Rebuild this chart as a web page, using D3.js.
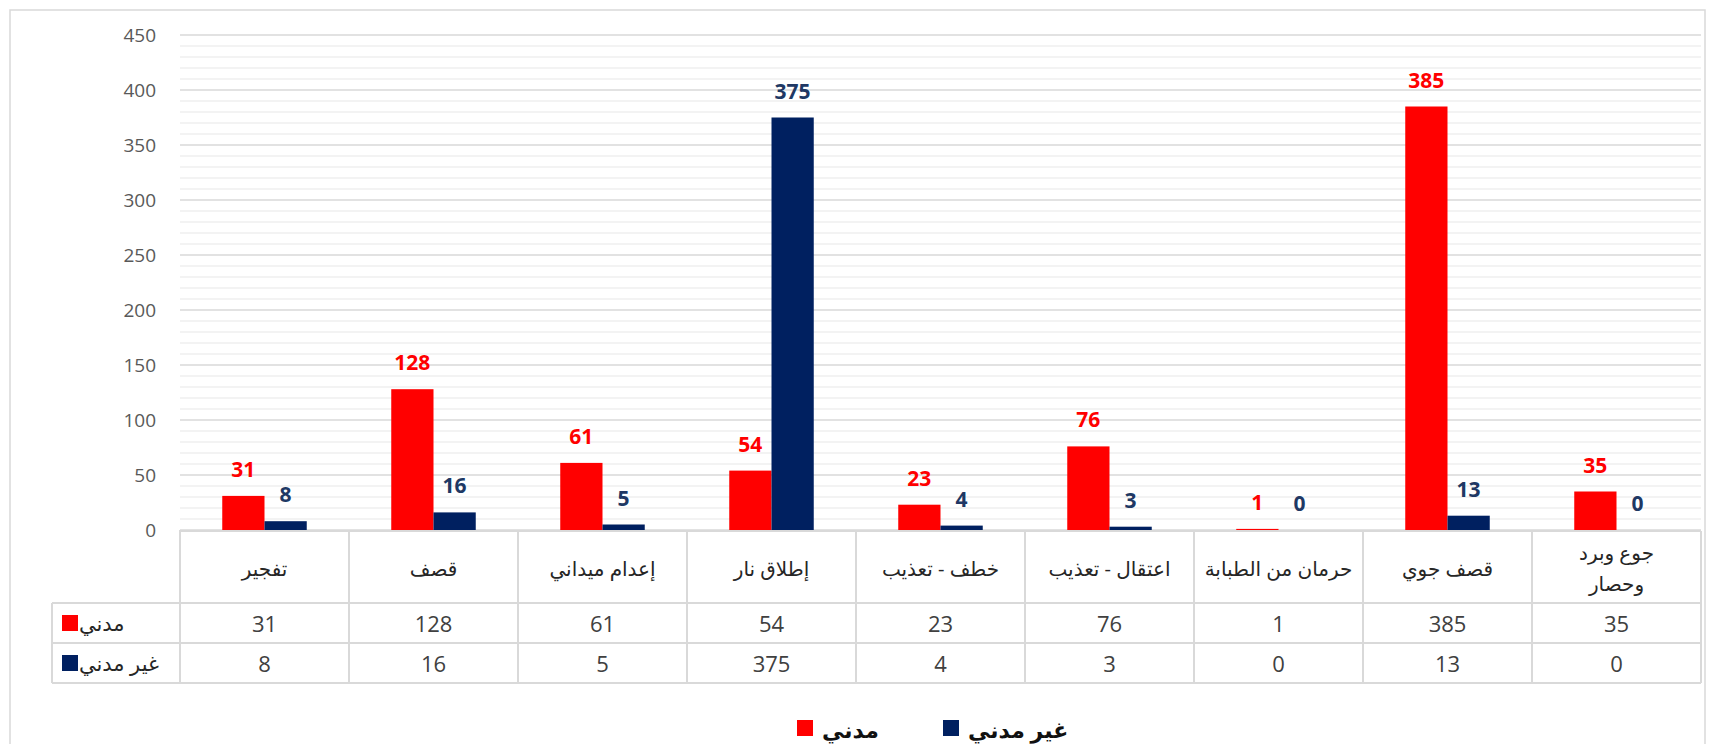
<!DOCTYPE html>
<html>
<head>
<meta charset="utf-8">
<script src="https://cdn.jsdelivr.net/npm/d3@7"></script>
<style>
  body { margin: 0; background: #fff; }
  svg { display: block; }
  text { font-family: "Open Sans", "DejaVu Sans", sans-serif; }
</style>
</head>
<body>
<div id="chart-area"></div>
<script>
// data ("\n" marks where the header label wraps)
const categories = ["تفجير", "قصف", "إعدام ميداني", "إطلاق نار", "خطف - تعذيب",
  "اعتقال - تعذيب", "حرمان من الطبابة", "قصف جوي", "جوع وبرد\nوحصار"];
const civilian = [31, 128, 61, 54, 23, 76, 1, 385, 35];
const nonCivilian = [8, 16, 5, 375, 4, 3, 0, 13, 0];
const seriesNames = ["مدني", "غير مدني"];
const seriesColors = ["#ff0000", "#002060"];
const labelColors = ["#ff0000", "#203864"];
const yTicks = [0, 50, 100, 150, 200, 250, 300, 350, 400, 450];

const W = 1710, H = 744;
let plot = { left: 180, right: 1701, top: 35, bottom: 530 };

let svg = d3.select("#chart-area").append("svg")
  .attr("width", W).attr("height", H);

// outer frame
svg.append("rect")
  .attr("x", 10).attr("y", 10)
  .attr("width", 1695).attr("height", 800)
  .attr("fill", "none").attr("stroke", "#d9d9d9").attr("stroke-width", 1.5);

let x = d3.scaleBand().domain(categories).range([plot.left, plot.right]);
let xSub = d3.scaleBand().domain([0, 1]).range([0, x.bandwidth()])
  .paddingOuter(1).paddingInner(0);
let y = d3.scaleLinear().domain([0, 450]).range([plot.bottom, plot.top]);

// minor gridlines
svg.append("g").selectAll("line")
  .data(d3.range(0, 451, 10).filter(v => v % 50 !== 0))
  .join("line")
  .attr("x1", plot.left).attr("x2", plot.right)
  .attr("y1", d => y(d)).attr("y2", d => y(d))
  .attr("stroke", "#efefef").attr("stroke-width", 1.3);

// major gridlines
svg.append("g").selectAll("line")
  .data(yTicks)
  .join("line")
  .attr("x1", plot.left).attr("x2", plot.right)
  .attr("y1", d => y(d)).attr("y2", d => y(d))
  .attr("stroke", "#d9d9d9").attr("stroke-width", 1.5);

// y axis labels
let yAxis = d3.axisLeft(y).tickValues(yTicks).tickSize(0).tickPadding(24);
let yAxisGroup = svg.append("g")
  .attr("transform", "translate(" + plot.left + ",0)")
  .call(yAxis);
yAxisGroup.select(".domain").remove();
yAxisGroup.selectAll("text")
  .attr("fill", "#595959")
  .style("font-size", "19px")
  .style("font-family", "'Open Sans', sans-serif");

// bars
let rows = categories.map((c, i) => ({ cat: c, vals: [civilian[i], nonCivilian[i]] }));

let groups = svg.append("g").selectAll("g")
  .data(rows)
  .join("g")
  .attr("transform", d => "translate(" + x(d.cat) + ",0)");

groups.selectAll("rect")
  .data(d => d.vals.map((v, k) => ({ v: v, k: k })))
  .join("rect")
  .attr("x", d => xSub(d.k))
  .attr("width", xSub.bandwidth())
  .attr("y", d => y(d.v))
  .attr("height", d => y(0) - y(d.v))
  .attr("fill", d => seriesColors[d.k]);

groups.selectAll("text.label")
  .data(d => d.vals.map((v, k) => ({ v: v, k: k })))
  .join("text")
  .attr("class", "label")
  .attr("x", d => xSub(d.k) + xSub.bandwidth() / 2)
  .attr("y", d => y(d.v) - 19)
  .attr("text-anchor", "middle")
  .attr("fill", d => labelColors[d.k])
  .style("font-size", "21px")
  .style("font-weight", "bold")
  .text(d => d.v);

// data table under the chart
let table = { left: 52, headTop: 531, headBottom: 603, row1: 643, bottom: 683 };
let gridStroke = "#d9d9d9";
let tg = svg.append("g");

function hline(x1, x2, yy) {
  tg.append("line").attr("x1", x1).attr("x2", x2).attr("y1", yy).attr("y2", yy)
    .attr("stroke", gridStroke).attr("stroke-width", 2);
}
function vline(xx, y1, y2) {
  tg.append("line").attr("x1", xx).attr("x2", xx).attr("y1", y1).attr("y2", y2)
    .attr("stroke", gridStroke).attr("stroke-width", 2);
}
hline(plot.left - 1, plot.right, table.headTop);
hline(table.left, plot.right, table.headBottom);
hline(table.left, plot.right, table.row1);
hline(table.left, plot.right, table.bottom);
vline(table.left, table.headBottom, table.bottom);
categories.forEach(c => vline(x(c), table.headTop, table.bottom));
vline(plot.right, table.headTop, table.bottom);

// header labels
tg.selectAll("text.cat")
  .data(categories)
  .join("text")
  .attr("class", "cat")
  .attr("text-anchor", "middle")
  .attr("fill", "#262626")
  .style("font-size", "20px")
  .each(function(d) {
    let lines = d.split("\n");
    let cx = x(d) + x.bandwidth() / 2;
    let mid = (table.headTop + table.headBottom) / 2 + 1;
    d3.select(this).selectAll("tspan")
      .data(lines)
      .join("tspan")
      .attr("x", cx)
      .attr("y", (ln, i) => mid + (i - (lines.length - 1) / 2) * 31)
      .attr("dominant-baseline", "central")
      .text(ln => ln);
  });

// table values
let tableRows = [civilian, nonCivilian];
tableRows.forEach((vals, r) => {
  let top = r === 0 ? table.headBottom : table.row1;
  let bot = r === 0 ? table.row1 : table.bottom;
  tg.selectAll("text.v" + r)
    .data(vals)
    .join("text")
    .attr("class", "v" + r)
    .attr("x", (d, i) => x(categories[i]) + x.bandwidth() / 2)
    .attr("y", (top + bot) / 2)
    .attr("dominant-baseline", "central")
    .attr("text-anchor", "middle")
    .attr("fill", "#404040")
    .style("font-size", "22px")
    .text(d => d);

  tg.append("rect")
    .attr("x", 62).attr("y", (top + bot) / 2 - 8)
    .attr("width", 16).attr("height", 16)
    .attr("fill", seriesColors[r]);
  tg.append("text")
    .attr("x", 79).attr("y", (top + bot) / 2)
    .attr("dominant-baseline", "central")
    .attr("fill", "#262626")
    .style("font-size", "21px")
    .text(seriesNames[r]);
});

// bottom legend
let legendItems = [
  { name: seriesNames[0], color: seriesColors[0], x: 797 },
  { name: seriesNames[1], color: seriesColors[1], x: 943 }
];
let legend = svg.append("g").selectAll("g")
  .data(legendItems)
  .join("g")
  .attr("transform", d => "translate(" + d.x + ",720)");
legend.append("rect")
  .attr("width", 16).attr("height", 16)
  .attr("fill", d => d.color);
legend.append("text")
  .attr("x", 25).attr("y", 9)
  .attr("dominant-baseline", "central")
  .attr("fill", "#111")
  .style("font-size", "22px")
  .style("font-weight", "bold")
  .text(d => d.name);
</script>
</body>
</html>
